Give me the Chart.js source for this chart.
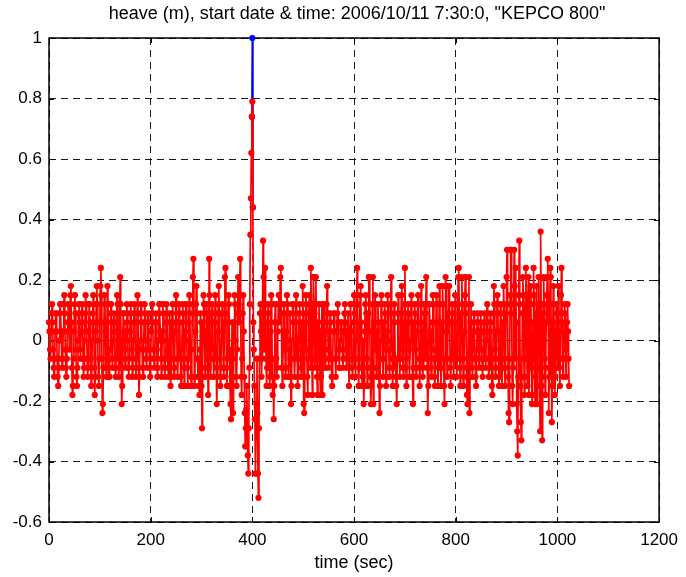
<!DOCTYPE html>
<html lang="en">

<head>
    <meta charset="UTF-8">
    <title>heave</title>
    <style>
        html, body { margin: 0; padding: 0; background: #fff; }
        #heaveChart { display: block; }
    </style>
</head>

<body>
    <canvas id="heaveChart" width="686" height="577"></canvas>

    <script src="https://cdn.jsdelivr.net/npm/chart.js"></script>
    <script>

        const titleText = 'heave (m), start date & time: 2006/10/11 7:30:0, "KEPCO 800"';
        const xLabel = 'time (sec)';

        // one sample per second, starting at t = 0
        const sampleSec = 1;
        const heave = [
            // 0 - 63 s
            0.06, 0.03, -0.03, -0.06, 0.03, 0.09, 0.12, 0.06, -0.03, -0.09, -0.12, -0.06, 0.03, 0.09, 0.09, 0.03,
            -0.06, -0.12, -0.15, -0.09, 0, 0.09, 0.12, 0.12, 0.03, -0.06, -0.09, -0.06, 0.03, 0.12, 0.15, 0.09,
            -0.03, -0.09, -0.12, -0.06, 0.03, 0.06, 0.12, 0.06, -0.03, 0.06, 0.15, 0.18, 0.06, -0.09, -0.18, -0.15,
            -0.06, 0.03, 0.12, 0.15, 0.09, -0.03, -0.12, -0.15, -0.09, 0, 0.09, 0.12, 0.06, -0.03, -0.06, 0.03,
            // 64 - 127 s
            0.09, 0.12, 0.06, -0.06, -0.12, -0.09, 0, 0.09, 0.15, 0.12, 0.03, -0.06, -0.12, -0.09, 0.03, 0.12,
            0.12, 0.06, -0.06, -0.15, -0.12, 0, 0.09, 0.15, 0.06, -0.09, -0.18, -0.12, 0.03, 0.12, 0.18, 0.12,
            0, -0.12, -0.15, -0.06, 0.06, 0.18, 0.24, 0.15, -0.06, -0.24, -0.21, -0.09, 0.06, 0.15, 0.12, 0.03,
            -0.09, -0.12, 0.06, 0.18, 0.12, -0.03, -0.12, -0.12, -0.03, 0.09, 0.12, 0.06, -0.06, -0.09, 0, 0.06,
            // 128 - 191 s
            0.09, 0.03, -0.09, -0.12, -0.06, 0.06, 0.15, 0.12, 0, -0.12, -0.09, 0.09, 0.21, 0.12, -0.09, -0.21,
            -0.15, 0, 0.09, 0.09, 0.03, -0.06, -0.09, -0.03, 0.06, 0.12, 0.09, 0, -0.09, -0.12, -0.06, 0.03,
            0.09, 0.12, 0.06, -0.03, -0.12, -0.09, 0, 0.09, 0.12, 0.06, -0.06, -0.12, -0.06, 0.06, 0.15, 0.09,
            -0.09, -0.18, -0.12, 0, 0.09, 0.12, 0.06, -0.03, -0.09, -0.12, -0.03, 0.06, 0.12, 0.09, 0, -0.06,
            // 192 - 255 s
            -0.09, -0.03, 0.06, 0.09, 0.06, -0.03, -0.09, -0.12, -0.06, 0.03, 0.09, 0.12, 0.06, -0.03, -0.06, -0.09,
            -0.03, 0.06, 0.09, 0.06, -0.03, -0.12, -0.09, 0, 0.09, 0.12, 0.12, 0.03, -0.06, -0.12, -0.06, 0.03,
            0.12, 0.09, 0, -0.09, -0.12, -0.06, 0.06, 0.12, 0.09, -0.03, -0.09, -0.12, -0.03, 0.09, 0.06, -0.15,
            -0.12, 0, 0.09, 0.12, 0.06, -0.06, -0.12, -0.09, 0.03, 0.12, 0.15, 0.06, -0.06, -0.12, -0.06, 0.06,
            // 256 - 319 s
            0.12, 0.09, -0.03, -0.12, -0.15, -0.06, 0.06, 0.12, 0.09, -0.06, -0.15, -0.09, 0.03, 0.12, 0.12, 0,
            -0.09, -0.15, -0.06, 0.06, 0.15, 0.09, -0.03, -0.12, -0.15, -0.03, 0.12, 0.21, 0.27, 0.09, -0.15, -0.12,
            0.03, 0.12, 0.18, 0.09, -0.06, -0.12, -0.06, -0.15, -0.18, -0.03, 0.09, 0.06, -0.15, -0.29, -0.12, 0.06,
            0.15, 0.12, 0, -0.12, -0.09, 0.03, 0.12, 0.09, -0.06, -0.18, -0.09, 0.27, 0.15, -0.06, -0.12, -0.03,
            // 320 - 383 s
            0.09, 0.12, 0.06, -0.06, -0.12, -0.06, 0.06, 0.15, 0.09, -0.09, -0.21, -0.12, 0.03, 0.12, 0.18, 0.09,
            -0.06, -0.15, -0.12, 0, 0.09, 0.12, 0.03, -0.09, -0.12, 0.06, 0.21, 0.24, 0.09, -0.09, -0.15, -0.06,
            0.06, 0.15, 0.12, -0.03, -0.15, -0.21, -0.26, -0.12, 0.06, -0.06, -0.24, -0.12, 0.06, 0.15, 0.12, 0,
            -0.12, -0.15, -0.03, 0.09, 0.21, 0.12, 0.06, 0.15, 0.27, 0.09, -0.12, -0.18, -0.06, 0.09, 0.15, 0.03,
            // 384 - 447 s
            -0.12, -0.24, -0.35, -0.29, -0.23, -0.15, -0.29, -0.38, -0.44, -0.29, -0.09, 0.12, 0.35, 0.47, 0.62, 0.74,
            0.79, 0.44, 0.06, -0.03, -0.15, -0.26, -0.44, -0.44, -0.21, -0.06, -0.24, -0.44, -0.52, -0.29, -0.06, 0.09,
            0.12, 0.03, -0.12, -0.06, 0.12, 0.33, 0.21, -0.03, 0.09, 0.24, 0.12, -0.06, -0.15, -0.09, 0.06, 0.12,
            0.09, -0.06, -0.15, -0.12, 0.03, 0.15, 0.12, -0.06, -0.18, -0.12, -0.26, -0.15, 0.06, 0.12, 0.06, -0.06,
            // 448 - 511 s
            -0.12, -0.09, 0.03, 0.12, 0.15, 0.06, 0.12, 0.21, 0.24, 0.09, -0.09, -0.15, -0.09, 0.03, 0.12, 0.09,
            -0.03, -0.12, -0.09, 0.03, 0.15, 0.12, 0, -0.12, -0.12, -0.03, 0.09, -0.06, -0.21, -0.15, 0, 0.12,
            0.12, 0.06, -0.06, -0.12, -0.06, 0.06, 0.15, 0.09, -0.03, -0.15, -0.12, 0, 0.09, 0.12, 0.06, -0.06,
            -0.12, -0.09, 0.06, 0.18, 0.09, -0.21, -0.24, -0.12, 0.06, 0.15, 0.12, -0.03, -0.12, -0.18, -0.06, 0.09,
            // 512 - 575 s
            0.15, 0.06, -0.09, 0.24, 0.12, -0.06, -0.18, -0.06, 0.21, 0.21, 0.09, -0.09, 0.12, 0.21, 0.06, -0.12,
            -0.18, -0.09, 0.06, 0.12, 0.03, -0.12, -0.18, -0.12, 0.03, 0.12, -0.18, -0.09, 0.06, 0.12, 0.06, -0.06,
            -0.09, 0.03, 0.12, 0.18, 0.09, -0.03, -0.09, -0.06, 0.03, 0.09, 0.06, -0.06, -0.12, -0.15, -0.06, 0.03,
            0.09, 0.09, 0.03, -0.06, -0.12, -0.06, 0.03, 0.09, 0.12, 0.06, -0.03, -0.09, -0.09, 0, 0.06, 0.06,
            // 576 - 639 s
            0.03, -0.03, -0.09, -0.06, 0.03, 0.09, 0.12, 0.06, -0.03, -0.09, -0.06, 0.03, 0.09, 0.03, -0.15, -0.09,
            0.03, 0.12, 0.12, 0.03, -0.09, -0.12, -0.06, 0.06, 0.15, 0.09, -0.06, -0.12, 0, 0.12, 0.24, 0.12,
            -0.06, -0.15, -0.09, 0.06, 0.15, 0.18, 0.06, -0.09, -0.15, -0.12, 0, -0.21, -0.15, 0.03, 0.12, 0.15,
            0.09, -0.06, -0.15, -0.09, 0.09, 0.21, 0.21, 0.03, -0.12, -0.21, -0.15, 0.03, 0.12, 0.21, -0.21, -0.09,
            // 640 - 703 s
            0.06, 0.15, 0.12, -0.03, -0.12, -0.09, 0.03, 0.12, 0.06, -0.12, -0.24, -0.15, 0, 0.12, 0.15, 0.06,
            -0.06, -0.12, -0.06, 0.06, 0.12, 0.09, -0.03, -0.15, -0.12, 0.03, 0.15, 0.12, 0, -0.09, -0.12, -0.03,
            0.12, 0.21, 0.09, -0.06, -0.15, -0.09, 0.06, 0.12, 0.06, -0.06, -0.12, -0.15, -0.21, -0.06, 0.09, 0.15,
            0.09, -0.06, -0.12, -0.06, 0.06, 0.15, 0.18, 0.06, -0.09, -0.12, -0.03, 0.12, 0.24, 0.09, -0.09, -0.15,
            // 704 - 767 s
            -0.06, 0.06, 0.12, 0.09, -0.03, -0.12, -0.12, 0, 0.12, 0.15, 0.06, -0.12, -0.21, -0.09, 0.06, 0.12,
            0.09, -0.03, -0.12, -0.09, 0.03, 0.12, 0.15, 0.06, -0.06, -0.15, -0.09, 0.06, 0.18, 0.12, -0.03, -0.12,
            -0.09, 0.03, 0.12, 0.09, -0.06, 0.09, 0.21, 0.12, -0.09, -0.24, -0.15, 0, 0.12, 0.12, 0.03, -0.09,
            -0.12, -0.06, 0.06, 0.15, 0.12, -0.03, -0.12, -0.15, -0.06, 0.06, 0.15, 0.12, -0.06, -0.15, -0.09, 0.06,
            // 768 - 831 s
            0.18, 0.12, -0.06, -0.15, -0.09, 0.06, 0.18, 0.12, -0.06, -0.15, -0.21, -0.06, 0.21, 0.18, 0.03, -0.12,
            -0.06, 0.09, 0.18, 0.18, 0.06, -0.09, -0.15, -0.06, 0.06, 0.12, 0.09, -0.06, -0.12, -0.06, 0.06, 0.15,
            0.12, -0.03, -0.12, -0.06, 0.12, 0.21, 0.24, 0.09, -0.09, -0.15, -0.06, 0.09, 0.21, 0.12, -0.06, -0.15,
            -0.12, 0.03, 0.15, 0.21, 0.09, -0.09, -0.18, -0.21, -0.06, 0.12, 0.21, -0.24, -0.12, 0.06, 0.12, 0.03,
            // 832 - 895 s
            -0.09, -0.12, -0.03, 0.06, 0.09, 0.03, -0.06, -0.12, -0.15, -0.06, 0.06, 0.09, 0.06, -0.03, -0.09, -0.06,
            0.03, 0.09, 0.06, -0.03, -0.09, -0.12, -0.06, 0.03, 0.09, 0.06, -0.06, -0.09, 0, 0.09, 0.12, 0.06,
            -0.06, -0.12, -0.09, 0.03, 0.09, 0.06, -0.06, -0.15, -0.18, -0.06, 0.09, 0.18, 0.12, -0.03, -0.12, -0.09,
            0.03, 0.12, 0.15, 0.09, -0.06, -0.15, -0.12, 0.03, 0.12, 0.09, -0.06, -0.15, -0.09, 0.06, 0.18, 0.12,
            // 896 - 959 s
            -0.06, -0.15, -0.09, 0.09, 0.21, 0.30, 0.12, -0.12, -0.24, -0.27, -0.06, 0.15, 0.30, 0.30, 0.09, -0.15,
            -0.21, -0.09, 0.12, 0.30, 0.18, -0.06, 0.24, 0.06, -0.21, -0.30, -0.38, -0.12, 0.15, 0.33, 0.12, -0.15,
            -0.27, -0.33, -0.12, 0.09, 0.21, 0.15, -0.06, -0.18, -0.12, 0.12, 0.24, 0.15, -0.06, -0.15, 0.06, 0.21,
            -0.18, -0.09, 0.06, 0.18, 0.12, -0.09, -0.21, -0.18, 0.06, 0.24, 0.15, -0.06, -0.21, -0.12, 0.09, 0.18,
            // 960 - 1023 s
            -0.21, -0.09, 0.12, 0.21, 0.06, -0.15, -0.30, 0.36, 0.12, -0.15, -0.33, -0.12, 0.09, 0.21, 0.12, -0.06,
            -0.18, -0.09, 0.06, 0.15, 0.21, 0.27, 0.06, -0.24, -0.12, 0.12, 0.24, 0.21, -0.06, -0.27, -0.15, 0.06,
            0.18, 0.12, -0.06, -0.18, -0.12, 0.03, 0.12, 0.09, -0.03, -0.09, 0.18, 0.06, -0.09, -0.15, 0.03, 0.15,
            0.24, 0.09, -0.06, -0.12, -0.06, 0.06, 0.12, 0.09, -0.03, -0.12, -0.06, 0.06, 0.12, 0.03, -0.06, -0.15
        ];

        // raw (blue) trace where it differs from the cleaned one
        const spikeSec = [399, 400, 401];
        const spikeRaw = [0.74, 1.0, 0.44];

        const xTicks = [0, 200, 400, 600, 800, 1000, 1200];
        const yTicks = [-0.6, -0.4, -0.2, 0, 0.2, 0.4, 0.6, 0.8, 1];
        const yTickLabels = ['-0.6', '-0.4', '-0.2', '0', '0.2', '0.4', '0.6', '0.8', '1'];

        const fontFamily = "'Liberation Sans', Arial, sans-serif";

        function toPoints(xs, ys) {
            return ys.map((v, i) => ({ x: xs[i], y: v }));
        }

        const heaveTimes = heave.map((v, i) => i * sampleSec);

        // box, inward tick marks and the two text lines, MATLAB style
        const matlabFrame = {
            id: 'matlabFrame',
            beforeDatasetsDraw(chart) {
                const ctx = chart.ctx;
                const a = chart.chartArea;
                const xs = chart.scales.x;
                const ys = chart.scales.y;
                const tl = 5;
                ctx.save();
                ctx.strokeStyle = '#000';
                ctx.lineWidth = 1;
                ctx.beginPath();
                xTicks.forEach(v => {
                    const px = Math.round(xs.getPixelForValue(v)) + 0.5;
                    ctx.moveTo(px, a.bottom); ctx.lineTo(px, a.bottom - tl);
                    ctx.moveTo(px, a.top); ctx.lineTo(px, a.top + tl);
                });
                yTicks.forEach(v => {
                    const py = Math.round(ys.getPixelForValue(v)) + 0.5;
                    ctx.moveTo(a.left, py); ctx.lineTo(a.left + tl, py);
                    ctx.moveTo(a.right, py); ctx.lineTo(a.right - tl, py);
                });
                ctx.stroke();
                ctx.lineWidth = 1.5;
                ctx.strokeRect(a.left, a.top, a.right - a.left, a.bottom - a.top);
                ctx.restore();
            },
            afterDraw(chart) {
                const ctx = chart.ctx;
                const a = chart.chartArea;
                const cx = (a.left + a.right) / 2;
                ctx.save();
                ctx.fillStyle = '#000';
                ctx.font = '18px ' + fontFamily;
                ctx.textAlign = 'center';
                ctx.textBaseline = 'middle';
                ctx.fillText(titleText, cx + 3, 14);
                ctx.fillText(xLabel, cx, 563);
                ctx.restore();
            }
        };

        const gridStyle = {
            color: '#1a1a1a',
            lineWidth: 1,
            drawTicks: false
        };

        const config = {
            type: 'line',
            data: {
                datasets: [
                    {
                        label: 'raw',
                        data: toPoints(spikeSec, spikeRaw),
                        borderColor: '#0000ff',
                        backgroundColor: '#0000ff',
                        borderWidth: 1.7,
                        pointRadius: 3.1,
                        pointBorderWidth: 0,
                        clip: 6,
                        order: 2
                    },
                    {
                        label: 'heave',
                        data: toPoints(heaveTimes, heave),
                        borderColor: '#ff0000',
                        backgroundColor: '#ff0000',
                        borderWidth: 1.7,
                        pointRadius: 3.1,
                        pointBorderWidth: 0,
                        clip: 6,
                        order: 1
                    }
                ]
            },
            plugins: [matlabFrame],
            options: {
                responsive: false,
                animation: false,
                events: [],
                layout: { padding: { left: 0, right: 20, top: 38, bottom: 0 } },
                plugins: {
                    legend: { display: false },
                    tooltip: { enabled: false },
                    title: { display: false }
                },
                scales: {
                    x: {
                        type: 'linear',
                        min: 0,
                        max: 1200,
                        afterBuildTicks: s => { s.ticks = xTicks.map(v => ({ value: v })); },
                        afterFit: s => { s.height = 55; },
                        grid: gridStyle,
                        border: { display: false, dash: [7, 5] },
                        ticks: {
                            color: '#000',
                            font: { family: fontFamily, size: 17 },
                            padding: 8,
                            maxRotation: 0,
                            autoSkip: false,
                            callback: v => String(v)
                        }
                    },
                    y: {
                        type: 'linear',
                        min: -0.6,
                        max: 1,
                        afterBuildTicks: s => { s.ticks = yTicks.map(v => ({ value: v })); },
                        afterFit: s => { s.width = 49; },
                        grid: gridStyle,
                        border: { display: false, dash: [7, 5] },
                        ticks: {
                            color: '#000',
                            font: { family: fontFamily, size: 17 },
                            padding: 7,
                            autoSkip: false,
                            callback: (v, i) => yTickLabels[i]
                        }
                    }
                }
            }
        };

        new Chart(document.getElementById('heaveChart'), config);

    </script>
</body>

</html>
